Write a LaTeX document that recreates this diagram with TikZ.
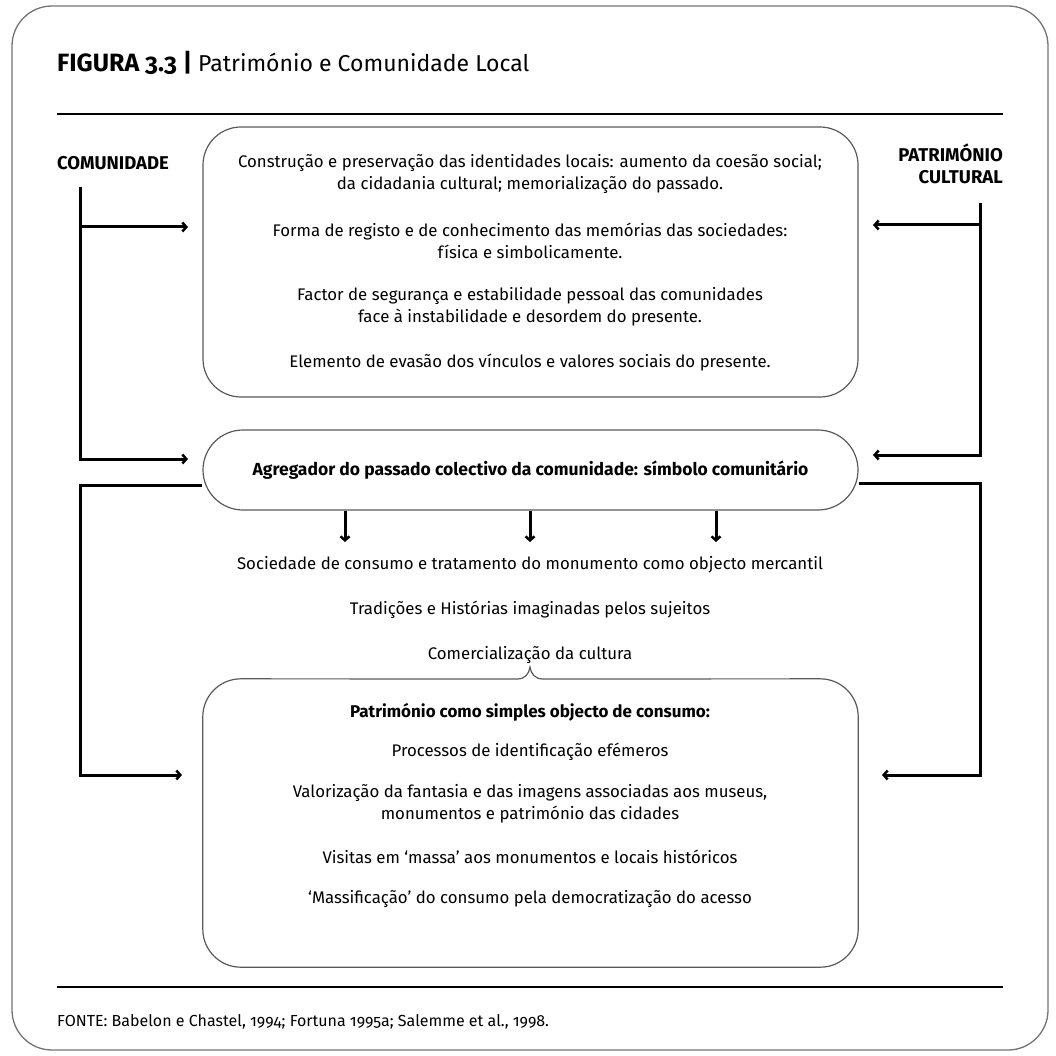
\documentclass[tikz,border=0pt]{standalone}
\usepackage{fontspec}
\setmainfont{Fira Sans}[Numbers=OldStyle]
\usetikzlibrary{arrows.meta}
\begin{document}
\begin{tikzpicture}[x=1pt,y=-1pt,
  frame/.style={draw=black!55,line width=1.3pt,rounded corners=40pt},
  boxline/.style={draw=black!65,line width=1.2pt},
  box/.style={boxline,rounded corners=38pt,inner sep=0pt},
  conn/.style={line width=3pt,line join=miter},
  arr/.style={conn,-{Straight Barb[length=4pt,width=9pt,line width=2.5pt]}},
  rule/.style={line width=2.6pt},
  txt/.style={font=\fontsize{16.8}{22}\selectfont,align=center,inner sep=0pt},
  head/.style={font=\fontsize{18.5}{22}\selectfont\bfseries,inner sep=0pt},
]
\useasboundingbox (0,0) rectangle (1056,1056);
\draw[frame] (12,6) rectangle (1048,1050);

% title
\node[anchor=base west,inner sep=0pt] (title) at (57,72)
  {\fontsize{25}{28}\selectfont\bfseries FIGURA 3.3 |\ \mdseries\fontsize{23}{26}\selectfont Património e Comunidade Local};
\coordinate (r1a) at (57,114);
\coordinate (r1b) at (1003,114);
\draw[rule] (r1a) -- (r1b);

% side headings
\node[head,anchor=west] (com) at (57,163) {COMUNIDADE};
\node[head,anchor=east,align=right] (pat) at (1003,164) {PATRIMÓNIO\\CULTURAL};

% top box
\node[box,minimum width=655pt,minimum height=270pt] (top) at (530.5,262) {};
\node[txt] (t1) at (530,174) {Construção e preservação das identidades locais: aumento da coesão social;\\da cidadania cultural; memorialização do passado.};
\node[txt] (t2) at (530,241) {Forma de registo e de conhecimento das memórias das sociedades:\\física e simbolicamente.};
\node[txt] (t3) at (530,307) {Factor de segurança e estabilidade pessoal das comunidades\\face à instabilidade e desordem do presente.};
\node[txt] (t4) at (530,363) {Elemento de evasão dos vínculos e valores sociais do presente.};

% pill
\node[box,rounded corners=40pt,minimum width=655pt,minimum height=80pt,font=\fontsize{17.5}{20}\selectfont\bfseries] (pill) at (530.5,470) {Agregador do passado colectivo da comunidade: símbolo comunitário};

% middle texts
\node[txt] (m1) at (530,565) {Sociedade de consumo e tratamento do monumento como objecto mercantil};
\node[txt] (m2) at (530,610) {Tradições e Histórias imaginadas pelos sujeitos};
\node[txt] (m3) at (530,655) {Comercialização da cultura};

% bottom box
\node[inner sep=0pt,minimum width=655pt,minimum height=288pt] (bot) at (530.5,823) {};
\draw[boxline,rounded corners=38pt] (517,679) -- (bot.north west) -- (bot.south west) -- (bot.south east) -- (bot.north east) -- (543,679);
\draw[boxline] (517,679) .. controls (525,679) and (529,674) .. (530,667) .. controls (531,674) and (535,679) .. (543,679);
\node[txt,font=\fontsize{17}{22}\selectfont\bfseries] (b0) at (530,712) {Património como simples objecto de consumo:};
\node[txt] (b1) at (530,752) {Processos de identificação efémeros};
\node[txt] (b2) at (530,804) {Valorização da fantasia e das imagens associadas aos museus,\\monumentos e património das cidades};
\node[txt] (b3) at (530,857) {Visitas em ‘massa’ aos monumentos e locais históricos};
\node[txt] (b4) at (530,899) {‘Massificação’ do consumo pela democratização do acesso};

% left connectors
\coordinate (L0) at (80,187);
\coordinate (L1) at (80,227);
\coordinate (L1e) at (188,227);
\coordinate (L2) at (80,459);
\coordinate (L2e) at (188,459);
\coordinate (L3) at (80,485);
\coordinate (L4) at (80,775);
\coordinate (L4e) at (182,775);
\draw[arr] (L0) -- (L2) -- (L2e);
\draw[arr] (L1) -- (L1e);
\draw[arr] (pill.west |- L3) -- (L3) -- (L4) -- (L4e);

% right connectors
\coordinate (R0) at (980,203);
\coordinate (R1) at (980,225);
\coordinate (R1e) at (873,225);
\coordinate (R2) at (980,455);
\coordinate (R2e) at (873,455);
\coordinate (R3) at (980,483);
\coordinate (R4) at (980,775);
\coordinate (R4e) at (882,775);
\draw[arr] (R0) -- (R2) -- (R2e);
\draw[arr] (R1) -- (R1e);
\draw[arr] (pill.east |- R3) -- (R3) -- (R4) -- (R4e);

% down arrows
\foreach \i/\x in {a/345,b/530,c/716}{
  \coordinate (d\i) at (\x,542);
  \draw[arr] (pill.south -| d\i) -- (d\i);
}

% bottom rule and source
\coordinate (r2a) at (57,987);
\coordinate (r2b) at (1003,987);
\draw[rule] (r2a) -- (r2b);
\node[anchor=west,inner sep=0pt,font=\fontsize{16}{18}\selectfont] (src) at (57,1022) {FONTE: Babelon e Chastel, 1994; Fortuna 1995a; Salemme et al., 1998.};
\end{tikzpicture}
\end{document}
